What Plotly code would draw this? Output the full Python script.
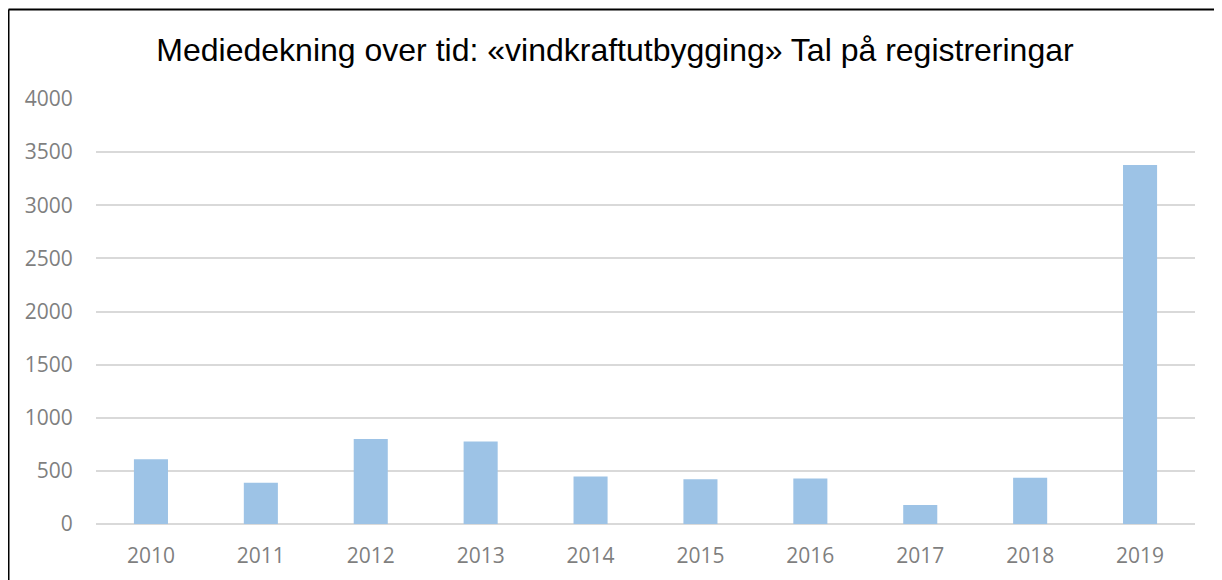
import plotly.graph_objects as go

years = ["2010", "2011", "2012", "2013", "2014", "2015", "2016", "2017", "2018", "2019"]
registrations = [610, 388, 801, 776, 447, 422, 429, 178, 435, 3378]
y_ticks = [0, 500, 1000, 1500, 2000, 2500, 3000, 3500, 4000]

# page body has an 8px margin; the figure is laid out in its own coordinates
OFF = 8
W, H = 1222 - OFF, 580 - OFF
ML, MR, MT, MB = 96 - OFF, 27, 99 - OFF, 56
pw = W - ML - MR
ph = H - MT - MB

def px_x(x):
    return (x - OFF - ML) / pw

def px_y(y):
    return (H - MB - (y - OFF)) / ph

fig = go.Figure()
fig.add_trace(go.Bar(
    x=years, y=registrations,
    marker=dict(color="#9DC3E6", line=dict(width=0)),
    hoverinfo="x+y",
))

fig.update_layout(
    width=W, height=H,
    margin=dict(l=ML, r=MR, t=MT, b=MB),
    paper_bgcolor="white", plot_bgcolor="white",
    bargap=0.69,
    showlegend=False,
    title=dict(
        text="Mediedekning over tid: «vindkraftutbygging» Tal på registreringar",
        font=dict(family="Liberation Sans, Arial", size=32, color="black"),
        x=(615 - OFF) / W, xanchor="center", xref="container",
        y=1 - (50 - OFF) / H, yanchor="middle", yref="container",
    ),
    xaxis=dict(
        type="category",
        showgrid=False, showline=False, zeroline=False,
        ticks="outside", ticklen=13, tickcolor="rgba(0,0,0,0)",
        tickfont=dict(family="Open Sans", size=21, color="#7F7F7F"),
    ),
    yaxis=dict(
        range=[0, 4000],
        tickvals=y_ticks,
        showgrid=True, gridcolor="#D9D9D9", gridwidth=1.5,
        zeroline=True, zerolinecolor="#D9D9D9", zerolinewidth=1.5,
        showline=False,
        ticks="outside", ticklen=18, tickcolor="rgba(0,0,0,0)",
        tickfont=dict(family="Open Sans", size=21, color="#7F7F7F"),
    ),
    shapes=[
        dict(type="line", xref="paper", yref="paper",
             x0=px_x(8.5), x1=px_x(1240), y0=px_y(9.5), y1=px_y(9.5),
             line=dict(color="black", width=2)),
        dict(type="line", xref="paper", yref="paper",
             x0=px_x(8.5), x1=px_x(8.5), y0=px_y(9.5), y1=px_y(600),
             line=dict(color="black", width=2)),
    ],
)

fig.write_html("out.html")
